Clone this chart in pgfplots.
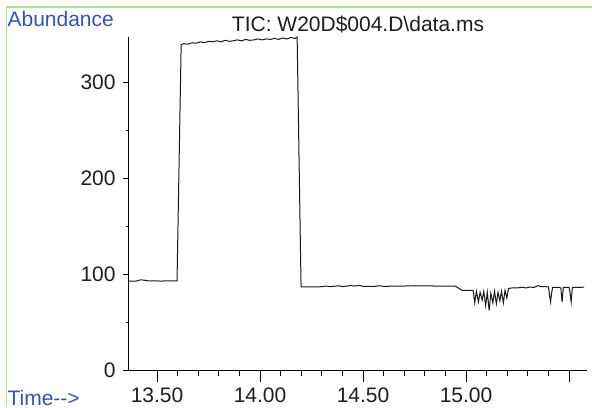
\documentclass[border=0pt]{standalone}
\usepackage{fontspec}
\setmainfont{Liberation Sans}
\usepackage{pgfplots}
\pgfplotsset{compat=1.18}
\definecolor{labblue}{RGB}{52,84,170}
\definecolor{framegreen}{RGB}{178,226,150}
\definecolor{ticktext}{RGB}{30,30,30}
\pgfplotsset{
  tic/.style={
    at={(64pt,18.5pt)}, anchor=south west,
    scale only axis,
    width=229.5pt, height=166.5pt,
    xmin=13.359, xmax=15.587,
    ymin=0, ymax=347,
    tick align=outside,
    every tick/.style={black, line width=0.5pt},
    /pgf/number format/assume math mode=true,
    ticklabel style={font=\fontsize{10.5}{12}\selectfont, text=ticktext},
    clip=false,
  },
}
\begin{document}
\begin{tikzpicture}
\useasboundingbox (0,0) rectangle (296pt,203.5pt);
% frame (only left and top edges are visible)
\draw[framegreen, line width=0.7pt] (3.3pt,0) -- (3.3pt,200pt) -- (296pt,200pt);
% main axis: data, time axis with long ticks
\begin{axis}[
    tic,
    axis lines*=left,
    xtick={13.5,14,14.5,15,15.5},
    xticklabels={13.50,14.00,14.50,15.00,{}},
    minor x tick num=4,
    ytick=\empty,
    major tick length=6pt, minor tick length=3pt,
    axis line style={line width=0.5pt},
    xticklabel style={anchor=base, inner sep=0pt, yshift=-10pt},
]
\addplot[black!90, line width=0.5pt] coordinates {
(13.359,92.7) (13.40,92.7) (13.42,94) (13.44,93.5) (13.46,92.8) (13.50,93)
(13.52,92.5) (13.54,93) (13.597,93)
(13.617,339) (13.63,340) (13.65,339.5) (13.67,341) (13.69,340.5) (13.71,342)
(13.73,341) (13.75,342.5) (13.77,342) (13.79,343) (13.81,342) (13.83,343.5)
(13.85,342.5) (13.87,343) (13.89,344) (13.91,343) (13.93,344.5) (13.95,343.5)
(13.97,344) (13.99,345) (14.01,344) (14.03,345) (14.05,344.5) (14.07,345.5)
(14.09,344.5) (14.11,346) (14.13,345) (14.15,346.5) (14.17,345.5) (14.18,347)
(14.199,86.5) (14.25,86.5) (14.30,86.8) (14.32,87.5) (14.34,86.8) (14.38,87.8)
(14.40,86.9) (14.44,88) (14.46,87.5) (14.48,88.2) (14.50,87.2) (14.55,87)
(14.58,87.8) (14.60,87.2) (14.70,87.5) (14.75,87.8) (14.85,87.5) (14.947,87.5)
(14.981,83) (15.034,83)
(15.042,70) (15.050,82) (15.060,71) (15.068,81) (15.078,73) (15.086,82)
(15.095,67) (15.103,81) (15.112,62) (15.120,80) (15.130,70) (15.138,82)
(15.147,69) (15.155,81) (15.164,72) (15.172,82) (15.181,70) (15.189,83)
(15.198,75) (15.206,85) (15.223,85.5)
(15.25,85.5) (15.27,86.3) (15.29,85.5) (15.31,86.5) (15.33,86) (15.35,88)
(15.36,87) (15.38,87) (15.40,86.5) (15.405,78) (15.41,71) (15.415,80)
(15.42,86) (15.45,86) (15.46,85.5) (15.466,71) (15.472,86) (15.50,86)
(15.505,80) (15.51,71) (15.516,86) (15.55,86) (15.573,86.5)
};
\end{axis}
% overlay: abundance axis with short ticks
\begin{axis}[
    tic,
    axis x line=none,
    axis y line*=left,
    ytick={0,100,200,300},
    minor y tick num=1,
    major tick length=2.5pt, minor tick length=1.2pt,
    axis line style={line width=0.5pt},
    yticklabel style={anchor=east, inner sep=0pt, xshift=-3.5pt},
]
\end{axis}
\node[anchor=base west, inner sep=0pt, text=labblue, font=\fontsize{10.5}{12}\selectfont] at (3.6pt,190pt) {Abundance};
\node[anchor=base west, inner sep=0pt, text=labblue, font=\fontsize{10.5}{12}\selectfont] at (3.6pt,1pt) {Time-{}-{}>};
\node[anchor=base, inner sep=0pt, text=ticktext, font=\fontsize{10.5}{12}\selectfont] at (179pt,187.5pt) {TIC: W20D\$004.D\textbackslash data.ms};
\end{tikzpicture}
\end{document}
